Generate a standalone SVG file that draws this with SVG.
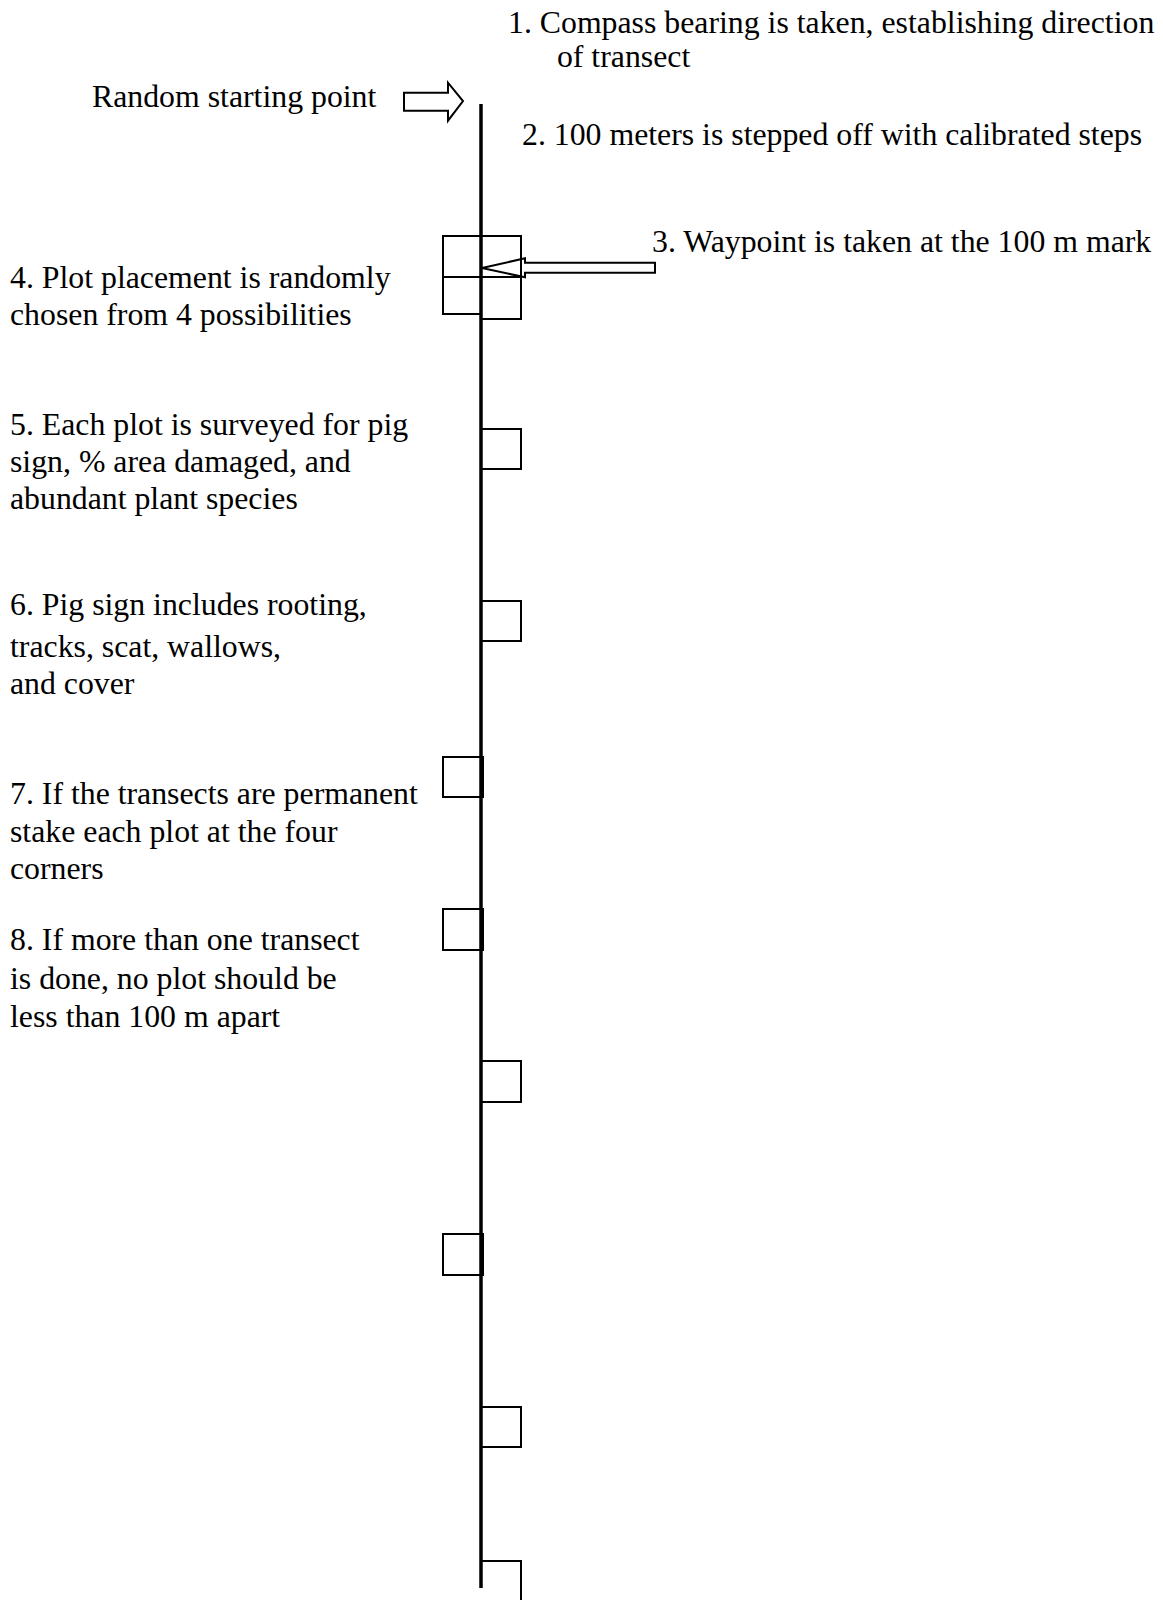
<svg xmlns="http://www.w3.org/2000/svg" width="1163" height="1600" viewBox="0 0 1163 1600">
<style>
.t{font-family:"Liberation Serif","Times New Roman",serif;font-size:31px;fill:#000}
.box{fill:none;stroke:#000;stroke-width:2}
.arrow{fill:#fff;stroke:#000;stroke-width:2;stroke-linejoin:miter}
</style>
<rect width="1163" height="1600" fill="#fff"/>
<g id="connectors">
<line id="transect" x1="481" y1="104" x2="481" y2="1588" stroke="#000" stroke-width="3.5"/>
<polygon id="start-arrow" class="arrow" points="404,92.7 448,92.7 448,82.7 463,101 448,120.7 448,110.7 404,110.7"/>
<polygon id="waypoint-arrow" class="arrow" points="482,268 525,258.3 525,262.7 655,262.7 655,272.7 525,272.7 525,277.3"/>
</g>
<g id="plot-4">
<polyline class="box" points="481,236 443,236 443,314 481,314"/>
<polyline class="box" points="481,236 521,236 521,319 481,319"/>
<line class="box" x1="443" y1="277" x2="521" y2="277"/>
</g>
<g id="plot-5"><rect class="box" x="481" y="429" width="40" height="40"/></g>
<g id="plot-6"><rect class="box" x="481" y="601" width="40" height="40"/></g>
<g id="plot-7"><rect class="box" x="443" y="757" width="40" height="40"/></g>
<g id="plot-8"><rect class="box" x="443" y="909" width="40" height="41"/></g>
<g id="plot-9"><rect class="box" x="481" y="1061" width="40" height="41"/></g>
<g id="plot-10"><rect class="box" x="443" y="1234" width="40" height="41"/></g>
<g id="plot-11"><rect class="box" x="481" y="1407" width="40" height="40"/></g>
<g id="plot-12"><polyline class="box" points="481,1561 521,1561 521,1602"/></g>
<g id="label-1"><text class="t" transform="translate(508,0) scale(1.026,1)"><tspan x="0" y="33">1. Compass bearing is taken, establishing direction</tspan><tspan x="47.7" y="67">of transect</tspan></text></g>
<g id="label-start"><text class="t" transform="translate(92,0) scale(1.026,1)" y="107">Random starting point</text></g>
<g id="label-2"><text class="t" transform="translate(522,0) scale(1.026,1)" y="145">2. 100 meters is stepped off with calibrated steps</text></g>
<g id="label-3"><text class="t" transform="translate(652,0) scale(1.026,1)" y="252">3. Waypoint is taken at the 100 m mark</text></g>
<g id="label-4"><text class="t" transform="translate(10,0) scale(1.026,1)"><tspan x="0" y="288">4. Plot placement is randomly</tspan><tspan x="0" y="325">chosen from 4 possibilities</tspan></text></g>
<g id="label-5"><text class="t" transform="translate(10,0) scale(1.026,1)"><tspan x="0" y="435">5. Each plot is surveyed for pig</tspan><tspan x="0" y="472">sign, % area damaged, and</tspan><tspan x="0" y="509">abundant plant species</tspan></text></g>
<g id="label-6"><text class="t" transform="translate(10,0) scale(1.026,1)"><tspan x="0" y="615">6. Pig sign includes rooting,</tspan><tspan x="0" y="657">tracks, scat, wallows,</tspan><tspan x="0" y="694">and cover</tspan></text></g>
<g id="label-7"><text class="t" transform="translate(10,0) scale(1.026,1)"><tspan x="0" y="804">7. If the transects are permanent</tspan><tspan x="0" y="842">stake each plot at the four</tspan><tspan x="0" y="879">corners</tspan></text></g>
<g id="label-8"><text class="t" transform="translate(10,0) scale(1.026,1)"><tspan x="0" y="950">8. If more than one transect</tspan><tspan x="0" y="989">is done, no plot should be</tspan><tspan x="0" y="1027">less than 100 m apart</tspan></text></g>
</svg>
